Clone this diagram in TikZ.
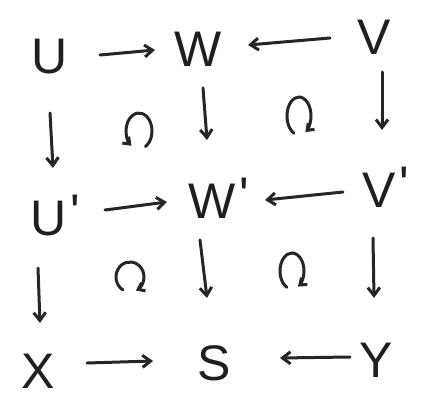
\documentclass[tikz,border=0pt]{standalone}
\usepackage{fontspec}
\setmainfont{Liberation Sans}
\usetikzlibrary{arrows.meta}
\begin{document}
\begin{tikzpicture}[x=1pt,y=-1pt,
  obj/.style={font=\fontsize{50}{50}\selectfont, inner sep=0pt, text=black!88},
  arr/.style={-{Straight Barb[length=8pt,width=12pt]}, line width=3pt, black!85, line cap=round},
  rot/.style={-{Straight Barb[length=6pt,width=9pt]}, line width=3pt, black!85, line cap=round}]
\path[use as bounding box, fill=white] (0,0) rectangle (425,414);
\newcommand{\pr}{\kern4pt\raisebox{6pt}{\textquotesingle}}
\node[obj] (U)  at (50,57)  {U};
\node[obj] (W)  at (198,49) {W};
\node[obj] (V)  at (374,37) {V};
\node[obj] (U1) at (55,216) {U\pr};
\node[obj] (W1) at (219,198) {W\pr};
\node[obj] (V1) at (386,187) {V\pr};
\node[obj] (X)  at (38,371) {X};
\node[obj] (S)  at (214,363) {S};
\node[obj] (Y)  at (376,360) {Y};
% horizontal arrows
\path (U) ++(50,-2) coordinate (a1) (W) ++(-43,1) coordinate (a2);
\draw[arr] (a1) -- (a2);
\path (V) ++(-44,1) coordinate (b1) (W) ++(50,-4) coordinate (b2);
\draw[arr] (b1) -- (b2);
\path (U1) ++(50,-6) coordinate (c1) (W1) ++(-52,4) coordinate (c2);
\draw[arr] (c1) -- (c2);
\path (V1) ++(-43,5) coordinate (d1) (W1) ++(46,2) coordinate (d2);
\draw[arr] (d1) -- (d2);
\path (X) ++(49,-8) coordinate (e1) (S) ++(-61,-2) coordinate (e2);
\draw[arr] (e1) -- (e2);
\path (Y) ++(-26,-3) coordinate (f1) (S) ++(66,-5) coordinate (f2);
\draw[arr] (f1) -- (f2);
% vertical arrows
\path (U) ++(0,56) coordinate (g1) (U1) ++(-2,-48) coordinate (g2);
\draw[arr] (g1) -- (g2);
\path (W) ++(5,39) coordinate (h1) (W1) ++(-12,-58) coordinate (h2);
\draw[arr] (h1) -- (h2);
\path (V) ++(8,35) coordinate (i1) (V1) ++(-4,-57) coordinate (i2);
\draw[arr] (i1) -- (i2);
\path (U1) ++(-17,52) coordinate (j1) (X) ++(2,-48) coordinate (j2);
\draw[arr] (j1) -- (j2);
\path (W1) ++(-19,42) coordinate (k1) (S) ++(-7,-65) coordinate (k2);
\draw[arr] (k1) -- (k2);
\path (V1) ++(-13,51) coordinate (l1) (Y) ++(-2,-62) coordinate (l2);
\draw[arr] (l1) -- (l2);
% commutativity symbols
\draw[rot] (139,131) ++(60:13 and 18) arc[start angle=60, end angle=-235, x radius=13, y radius=18];
\draw[rot] (299,116) ++(115:12 and 19) arc[start angle=115, end angle=418, x radius=12, y radius=19];
\draw[rot] (130,277) ++(120:14 and 15) arc[start angle=120, end angle=425, x radius=14, y radius=15];
\draw[rot] (292,271) ++(115:12 and 18) arc[start angle=115, end angle=420, x radius=12, y radius=18];
\end{tikzpicture}
\end{document}
